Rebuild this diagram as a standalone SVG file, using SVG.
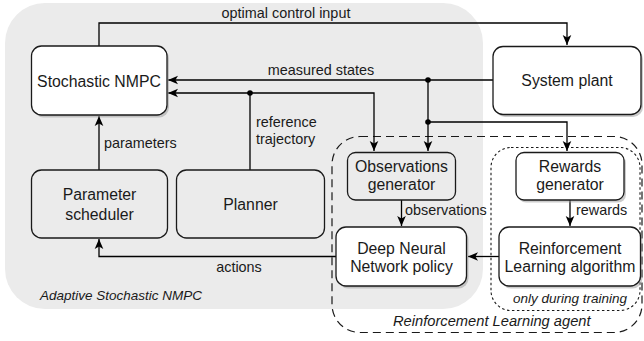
<svg xmlns="http://www.w3.org/2000/svg" width="644" height="341" viewBox="0 0 644 341">
<defs>
<marker id="arr" markerUnits="userSpaceOnUse" markerWidth="11" markerHeight="11" viewBox="0 0 11 11" refX="10" refY="5.5" orient="auto">
<path d="M0,1.2 L10,5.5 L0,9.8 L2.6,5.5 Z" fill="#000"/>
</marker>
</defs>
<style>
.bx{stroke:#1a1a1a;stroke-width:1.3;}
.w{fill:#fff;}
.g{fill:#ebebeb;}
.sh{fill:#9a9a9a;opacity:0.5;}
.t{font-family:"Liberation Sans",Arial,sans-serif;font-size:15.8px;fill:#1a1a1a;text-anchor:middle;}
.l{font-family:"Liberation Sans",Arial,sans-serif;font-size:14.4px;fill:#1a1a1a;}
.i{font-family:"Liberation Sans",Arial,sans-serif;font-size:13.5px;font-style:italic;fill:#1a1a1a;}
.c{fill:none;stroke:#000;stroke-width:1.3;}
</style>
<rect width="644" height="341" fill="#fff"/>
<rect x="5" y="3" width="478" height="306" rx="40" fill="#ebebeb"/>
<rect x="332" y="136.5" width="310" height="196" rx="28" fill="none" stroke="#1a1a1a" stroke-width="1.2" stroke-dasharray="8 5"/>
<rect x="491" y="147.5" width="149" height="163" rx="20" fill="none" stroke="#1a1a1a" stroke-width="1.1" stroke-dasharray="2.5 2.5"/>

<g id="connectors">
<polyline class="c" points="99,46 99,23 567,23 567,45" marker-end="url(#arr)"/>
<polyline class="c" points="493,80 168,80" marker-end="url(#arr)"/>
<polyline class="c" points="250,170 250,93 168,93" marker-end="url(#arr)"/>
<polyline class="c" points="250,93 374,93 374,151" marker-end="url(#arr)"/>
<polyline class="c" points="428,80 428,151" marker-end="url(#arr)"/>
<polyline class="c" points="428,122 567,122 567,151" marker-end="url(#arr)"/>
<polyline class="c" points="401.5,200 401.5,226" marker-end="url(#arr)"/>
<polyline class="c" points="570,200 570,226" marker-end="url(#arr)"/>
<polyline class="c" points="499,256.5 468,256.5" marker-end="url(#arr)"/>
<polyline class="c" points="336,256.5 99,256.5 99,239" marker-end="url(#arr)"/>
<polyline class="c" points="99,170 99,116" marker-end="url(#arr)"/>
<circle cx="250" cy="93" r="2.8" fill="#000"/>
<circle cx="428" cy="80" r="2.8" fill="#000"/>
<circle cx="428" cy="122" r="2.8" fill="#000"/>
<text class="l" x="286" y="18" text-anchor="middle">optimal control input</text>
<text class="l" x="321" y="75" text-anchor="middle">measured states</text>
<text class="l" x="104" y="148">parameters</text>
<text class="l" x="256" y="127">reference</text>
<text class="l" x="256" y="144">trajectory</text>
<text class="l" x="405" y="215">observations</text>
<text class="l" x="576" y="215">rewards</text>
<text class="l" x="239" y="272" text-anchor="middle">actions</text>
</g>

<g id="stochastic-nmpc">
<rect class="sh" x="33.5" y="48.5" width="135.5" height="69" rx="10"/>
<rect class="bx w" x="31.5" y="46" width="135.5" height="69" rx="10"/>
<text class="t" x="99" y="86.5">Stochastic NMPC</text>
</g>
<g id="system-plant">
<rect class="sh" x="495" y="49" width="148" height="68" rx="10"/>
<rect class="bx w" x="493" y="46.5" width="148" height="68" rx="10"/>
<text class="t" x="567" y="86">System plant</text>
</g>
<g id="parameter-scheduler">
<rect class="bx g" x="31.5" y="170" width="136" height="68" rx="10"/>
<text class="t" x="99.5" y="200">Parameter</text>
<text class="t" x="99.5" y="220">scheduler</text>
</g>
<g id="planner">
<rect class="bx g" x="176.5" y="170" width="148" height="68" rx="10"/>
<text class="t" x="250.5" y="209.5">Planner</text>
</g>
<g id="observations-generator">
<rect class="bx g" x="347.5" y="152.5" width="108" height="47.5" rx="8"/>
<text class="t" x="401.5" y="171.5">Observations</text>
<text class="t" x="401.5" y="189.5">generator</text>
</g>
<g id="rewards-generator">
<rect class="sh" x="518" y="155" width="108" height="47.5" rx="8"/>
<rect class="bx w" x="516" y="152.5" width="108" height="47.5" rx="8"/>
<text class="t" x="570" y="171.5">Rewards</text>
<text class="t" x="570" y="189.5">generator</text>
</g>
<g id="dnn-policy">
<rect class="sh" x="338" y="229.5" width="130.5" height="59" rx="10"/>
<rect class="bx w" x="336" y="227" width="130.5" height="59" rx="10"/>
<text class="t" x="401.5" y="253.5">Deep Neural</text>
<text class="t" x="401.5" y="272">Network policy</text>
</g>
<g id="rl-algorithm">
<rect class="sh" x="501" y="229.5" width="141.5" height="59" rx="10"/>
<rect class="bx w" x="499" y="227" width="141.5" height="59" rx="10"/>
<text class="t" x="570" y="253.5">Reinforcement</text>
<text class="t" x="570" y="272">Learning algorithm</text>
</g>
<g id="region-labels">
<text class="i" x="40" y="299.5">Adaptive Stochastic NMPC</text>
<text class="i" x="513" y="302.5">only during training</text>
<text class="i" x="393" y="325.5" style="font-size:14.7px">Reinforcement Learning agent</text>
</g>
</svg>
